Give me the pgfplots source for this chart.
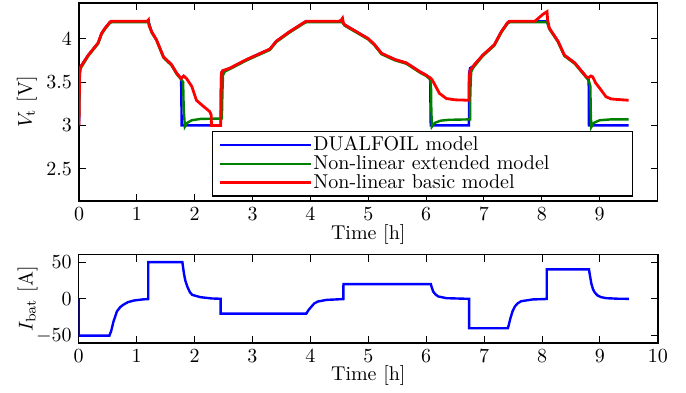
\documentclass[border=0pt]{standalone}
\usepackage{pgfplots}
\pgfplotsset{compat=1.18}
\definecolor{mblue}{RGB}{0,0,255}
\definecolor{mgreen}{RGB}{0,128,0}
\definecolor{mred}{RGB}{255,0,0}
\begin{document}
\begin{tikzpicture}
\path[use as bounding box] (0pt,0pt) rectangle (343pt,196pt);
\pgfplotsset{
  every axis/.append style={
    scale only axis, xmin=0, xmax=10,
    axis line style={black, line width=0.6pt},
    tick align=inside, tick style={black, line width=0.5pt},
    major tick length=3.5pt,
    xtick pos=both, ytick pos=both,
  },
}
\begin{axis}[
  at={(39.5pt,95.5pt)}, anchor=south west,
  width=289.25pt, height=99pt,
  ymin=2.13, ymax=4.41,
  xtick={0,1,...,9}, ytick={2.5,3,3.5,4},
  xlabel={Time [h]},
  xlabel style={at={(axis description cs:0.5,-0.17)}, anchor=center},
  ylabel={$V_{\mathrm{t}}$ [V]},
  ylabel style={at={(axis description cs:-0.09,0.5)}, anchor=center},
  legend style={at={(axis description cs:0.2299,0.3535)}, anchor=north west,
    draw=black, line width=0.6pt, fill=white, inner xsep=3pt, inner ysep=2pt,
    cells={anchor=west},
    nodes={inner sep=0.5pt, text height=6.9pt, text depth=1.5pt}},
  legend image code/.code={\path (0pt,0pt) -- (45.5pt,0pt); \draw[#1] (4.3pt,0pt) -- (43.3pt,0pt);},
]
\addplot[mblue, line width=1.2pt] coordinates {
(0,3.0) (0.005,3.3) (0.015,3.65) (0.03,3.68) (0.16,3.81) (0.33,3.95) (0.39,4.06) (0.45,4.12) (0.535,4.19) (0.56,4.2) (1.2,4.2)
(1.255,4.08) (1.34,3.985) (1.46,3.79) (1.6,3.70) (1.69,3.60) (1.765,3.54) (1.775,3.0) (2.45,3.0)
(2.455,3.55) (2.47,3.62) (2.61,3.66) (2.9,3.76) (3.3,3.88) (3.41,3.97) (3.64,4.08) (3.9,4.19) (3.93,4.2) (4.55,4.2)
(4.59,4.16) (5.0,4.0) (5.11,3.93) (5.23,3.83) (5.46,3.76) (5.66,3.72) (5.89,3.62) (6.0,3.58) (6.07,3.54) (6.08,3.0) (6.74,3.0)
(6.745,3.6) (6.76,3.66) (6.81,3.68) (6.98,3.81) (7.18,3.93) (7.3,4.08) (7.41,4.185) (7.44,4.2) (8.09,4.2)
(8.13,4.12) (8.28,3.97) (8.39,3.81) (8.57,3.72) (8.77,3.56) (8.81,3.53) (8.815,3.0) (9.5,3.0)
};
\addlegendentry{\makebox[156pt][l]{DUALFOIL model}}
\addplot[mgreen, line width=1.2pt] coordinates {
(0,3.08) (0.01,3.5) (0.02,3.64) (0.04,3.67) (0.16,3.80) (0.33,3.94) (0.39,4.05) (0.45,4.11) (0.535,4.18) (0.57,4.19) (1.2,4.19)
(1.255,4.07) (1.34,3.98) (1.46,3.78) (1.6,3.69) (1.69,3.59) (1.765,3.53) (1.80,3.50) (1.81,3.2) (1.83,2.985) (1.87,3.03) (1.95,3.06) (2.1,3.075) (2.47,3.08)
(2.48,3.4) (2.49,3.58) (2.52,3.62) (2.61,3.65) (2.9,3.75) (3.3,3.87) (3.41,3.96) (3.64,4.07) (3.9,4.18) (3.94,4.19) (4.55,4.19)
(4.59,4.15) (5.0,3.99) (5.11,3.92) (5.23,3.82) (5.46,3.75) (5.66,3.71) (5.89,3.61) (6.0,3.57) (6.07,3.53) (6.085,3.45) (6.09,3.2) (6.10,2.985) (6.15,3.03) (6.25,3.055) (6.4,3.065) (6.76,3.07)
(6.765,3.4) (6.78,3.62) (6.82,3.67) (6.98,3.80) (7.18,3.92) (7.3,4.07) (7.41,4.175) (7.45,4.19) (8.09,4.19)
(8.13,4.11) (8.28,3.96) (8.39,3.80) (8.57,3.71) (8.77,3.55) (8.81,3.52) (8.84,3.45) (8.845,3.2) (8.855,2.98) (8.9,3.03) (9.0,3.06) (9.2,3.07) (9.5,3.07)
};
\addlegendentry{\makebox[156pt][l]{Non-linear extended model}}
\addplot[mred, line width=1.4pt] coordinates {
(0,3.0) (0.01,3.6) (0.025,3.67) (0.16,3.81) (0.33,3.95) (0.39,4.06) (0.45,4.12) (0.535,4.19) (0.56,4.2) (1.18,4.2) (1.2,4.215)
(1.21,4.15) (1.255,4.08) (1.34,3.985) (1.46,3.79) (1.6,3.70) (1.69,3.60) (1.765,3.54) (1.78,3.55) (1.81,3.57) (1.86,3.54) (1.95,3.45) (2.03,3.29) (2.15,3.22) (2.26,3.16) (2.285,3.12) (2.29,3.0) (2.45,3.0)
(2.46,3.6) (2.48,3.63) (2.61,3.66) (2.9,3.76) (3.3,3.88) (3.41,3.97) (3.64,4.08) (3.9,4.19) (3.93,4.2) (4.5,4.2) (4.54,4.22) (4.555,4.235)
(4.57,4.18) (4.59,4.16) (5.0,4.0) (5.11,3.93) (5.23,3.83) (5.46,3.76) (5.66,3.72) (5.89,3.62) (6.0,3.58) (6.04,3.56) (6.07,3.55) (6.1,3.53) (6.15,3.47) (6.23,3.37) (6.35,3.31) (6.5,3.295) (6.74,3.29)
(6.745,3.55) (6.76,3.63) (6.81,3.68) (6.98,3.81) (7.18,3.93) (7.3,4.08) (7.41,4.185) (7.44,4.2) (7.88,4.2) (7.95,4.24) (8.02,4.28) (8.09,4.31) (8.1,4.22)
(8.13,4.12) (8.28,3.97) (8.39,3.81) (8.57,3.72) (8.77,3.56) (8.81,3.55) (8.85,3.57) (8.88,3.56) (8.93,3.49) (9.0,3.43) (9.11,3.33) (9.2,3.305) (9.29,3.30) (9.5,3.29)
};
\addlegendentry{\makebox[156pt][l]{Non-linear basic model}}
\end{axis}
\begin{axis}[
  at={(39.35pt,24.5pt)}, anchor=south west,
  width=289.6pt, height=44.15pt,
  ymin=-60, ymax=60,
  xtick={0,1,...,10}, ytick={-50,0,50},
  xlabel={Time [h]},
  xlabel style={at={(axis description cs:0.5,-0.363)}, anchor=center},
  ylabel={$I_{\mathrm{bat}}$ [A]},
  ylabel style={at={(axis description cs:-0.088,0.5)}, anchor=center},
]
\addplot[mblue, line width=1.2pt] coordinates {
(0,0) (0.001,-50) (0.53,-50) (0.56,-44) (0.6,-31) (0.66,-17) (0.72,-11) (0.77,-8) (0.85,-4.5) (0.95,-2.3) (1.1,-0.8) (1.2,-0.3)
(1.201,50) (1.79,50) (1.80,44) (1.816,35) (1.84,25) (1.875,16.7) (1.92,9) (1.96,5.4) (2.1,2.3) (2.3,0.5) (2.45,0.1)
(2.451,-20) (3.93,-20) (3.97,-15) (4.02,-10.4) (4.07,-6) (4.13,-3.6) (4.28,-1.4) (4.57,-0.3)
(4.571,20) (6.08,20) (6.09,17) (6.12,10) (6.16,6) (6.21,3.2) (6.35,0.9) (6.74,0)
(6.741,-40) (7.41,-40) (7.43,-34) (7.455,-26) (7.49,-17) (7.53,-10.4) (7.58,-6) (7.64,-3.2) (7.84,-0.8) (8.08,-0.2)
(8.081,40) (8.81,40) (8.82,35) (8.835,28) (8.85,21) (8.88,13) (8.91,8.6) (8.96,4.5) (9.02,2.3) (9.11,0.9) (9.3,0.2) (9.5,0)
};
\end{axis}
\end{tikzpicture}
\end{document}
